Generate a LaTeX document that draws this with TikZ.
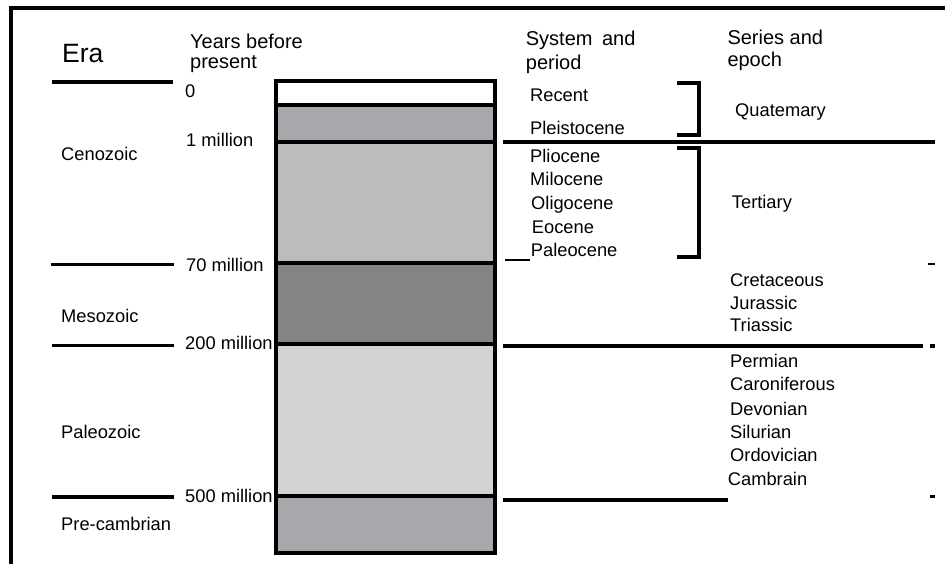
\documentclass[tikz,border=0pt]{standalone}
\usepackage{fontspec}
\setmainfont{Liberation Sans}
\definecolor{gA}{HTML}{A7A8AB}
\definecolor{gB}{HTML}{BBBCBE}
\definecolor{gC}{HTML}{838486}
\definecolor{gD}{HTML}{D2D3D5}
\begin{document}
\begin{tikzpicture}[x=1pt,y=-1pt,
  lbl/.style={anchor=base west,inner sep=0pt,font=\fontsize{18.3}{21}\selectfont},
  head/.style={anchor=base west,inner sep=0pt,font=\fontsize{20}{23}\selectfont},
  rule/.style={line width=3.5pt},
  frame/.style={line width=4pt},
  brk/.style={line width=3.5pt}]
\useasboundingbox (0,0) rectangle (945,564);
% frame
\draw[frame] (945,8) -- (11,8) -- (11,564);
% column fills
\fill[white] (276,81.5) rectangle (495,105);
\fill[gA] (276,105) rectangle (495,142);
\fill[gB] (276,142) rectangle (495,263);
\fill[gC] (276,263) rectangle (495,344);
\fill[gD] (276,344) rectangle (495,496);
\fill[gA] (276,496) rectangle (495,553);
\foreach \yy in {105,142,263,344,496} \draw[line width=4pt] (276,\yy) -- (495,\yy);
\draw[line width=4pt] (276,81.5) rectangle (495,553);
% era rules (left)
\draw[rule] (52,82) -- (173,82);
\draw[line width=3pt] (51,264.5) -- (174,264.5);
\draw[rule] (52,345.5) -- (174,345.5);
\draw[rule] (52,497) -- (174,497);
% right rules
\draw[rule] (503,142) -- (935,142);
\draw[line width=2.5pt] (505,260) -- (530,260);
\draw[line width=2pt] (928,264) -- (935,264);
\draw[line width=4pt] (503,345.5) -- (923,345.5);
\draw[line width=4pt] (930,345.5) -- (934.5,345.5);
\draw[line width=4pt] (503,499.5) -- (728,499.5);
\draw[line width=3pt] (930,496) -- (934.5,496);
% brackets
\draw[brk] (677,83) -- (699,83) -- (699,135) -- (677,135);
\draw[brk] (677,148) -- (699,148) -- (699,257) -- (677,257);
% headings
\node[anchor=base west,inner sep=0pt,font=\fontsize{26.5}{30}\selectfont] (era) at (62,62.7) {Era};
\node[head] (yb1) at (190,48.3) {Years before};
\node[head] (yb2) at (190,69) {present};
\node[head] (sp1) at (525.7,45.7) {System\hspace{4pt} and};
\node[head] (sp2) at (525.7,69.3) {period};
\node[head] (se1) at (727.3,44.3) {Series and};
\node[head] (se2) at (727.3,66.7) {epoch};
% years
\node[lbl] (y0) at (185,97.7) {0};
\node[lbl] (y1) at (186,146.7) {1 million};
\node[lbl] (y70) at (186,271.7) {70 million};
\node[lbl] (y200) at (185,349.3) {200 million};
\node[lbl] (y500) at (185,502.3) {500 million};
% eras
\node[lbl] (ceno) at (61,160.7) {Cenozoic};
\node[lbl] (meso) at (61,322.7) {Mesozoic};
\node[lbl] (paleo) at (61,438.3) {Paleozoic};
\node[lbl] (pre) at (61,530) {Pre-cambrian};
% epochs / periods
\node[lbl] (recent) at (530,101.7) {Recent};
\node[lbl] (pleist) at (530,135) {Pleistocene};
\node[lbl] (quat) at (735,116.7) {Quatemary};
\node[lbl] (plio) at (530,162.7) {Pliocene};
\node[lbl] (milo) at (530,186) {Milocene};
\node[lbl] (oligo) at (531,209.3) {Oligocene};
\node[lbl] (eoc) at (531.7,233.3) {Eocene};
\node[lbl] (paleoc) at (530.7,256) {Paleocene};
\node[lbl] (tert) at (731.7,208.3) {Tertiary};
\node[lbl] (cret) at (730,286) {Cretaceous};
\node[lbl] (jur) at (730,309.3) {Jurassic};
\node[lbl] (tri) at (730,331.7) {Triassic};
\node[lbl] (perm) at (730,367.7) {Permian};
\node[lbl] (carb) at (730,390.7) {Caroniferous};
\node[lbl] (dev) at (730,415) {Devonian};
\node[lbl] (sil) at (730,438.3) {Silurian};
\node[lbl] (ord) at (730,461.7) {Ordovician};
\node[lbl] (camb) at (727.7,485) {Cambrain};
\end{tikzpicture}
\end{document}
